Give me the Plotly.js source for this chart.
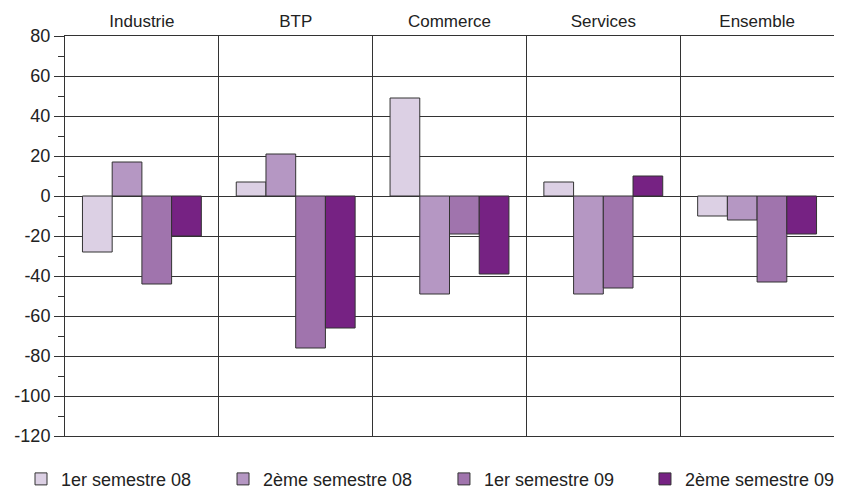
<!DOCTYPE html>
<html>
<head>
<meta charset="utf-8">
<script src="https://cdn.plot.ly/plotly-3.0.1.min.js"></script>
<style>html,body{margin:0;padding:0;background:#fff;}#chart{width:842px;height:492px;}</style>
</head>
<body>
<div id="chart"></div>
<script>
const categories = ["Industrie", "BTP", "Commerce", "Services", "Ensemble"];
const seriesNames = ["1er semestre 08", "2ème semestre 08", "1er semestre 09", "2ème semestre 09"];
const s1_08 = [-28, 7, 49, 7, -10];
const s2_08 = [17, 21, -49, -49, -12];
const s1_09 = [-44, -76, -19, -46, -43];
const s2_09 = [-20, -66, -39, 10, -19];
const colors = ["#dcd0e4", "#b597c3", "#a074ad", "#762283"];
const yTicks = [80, 60, 40, 20, 0, -20, -40, -60, -80, -100, -120];

const series = [s1_08, s2_08, s1_09, s2_09];
const legendIds = ["legend", "legend2", "legend3", "legend4"];
const legendX = [-0.0572, 0.2055, 0.4928, 0.7542];

const traces = series.map((vals, i) => ({
  type: "bar",
  name: seriesNames[i],
  x: categories,
  y: vals,
  legend: legendIds[i],
  marker: {color: colors[i], line: {color: "#333333", width: 1}},
  hoverinfo: "skip"
}));

const layout = {
  width: 842, height: 492,
  margin: {l: 65, r: 8, t: 36, b: 56, autoexpand: false},
  paper_bgcolor: "#ffffff", plot_bgcolor: "#ffffff",
  font: {family: "Liberation Sans, Arial, sans-serif", size: 18, color: "#222222"},
  barmode: "group",
  bargap: 0.227,
  bargroupgap: 0,
  showlegend: true,
  xaxis: {
    type: "category",
    side: "top",
    tickson: "boundaries",
    showgrid: true,
    gridcolor: "#333333",
    gridwidth: 1,
    ticks: "",
    ticklen: 0,
    showline: true,
    linecolor: "#333333",
    mirror: true,
    tickfont: {size: 17, color: "#222222"},
    ticklabelstandoff: 1,
    fixedrange: true
  },
  yaxis: {
    range: [-120, 80],
    tickvals: yTicks,
    ticktext: yTicks.map(String),
    ticks: "outside",
    ticklen: 10,
    tickcolor: "#333333",
    showline: true,
    linecolor: "#333333",
    showgrid: true,
    gridcolor: "#333333",
    gridwidth: 1,
    zeroline: true,
    zerolinecolor: "#333333",
    zerolinewidth: 1,
    minor: {dtick: 10, ticks: "outside", ticklen: 6, tickcolor: "#333333", showgrid: false},
    tickfont: {size: 18, color: "#222222"},
    fixedrange: true
  }
};

legendIds.forEach((id, i) => {
  layout[id] = {
    orientation: "h",
    x: legendX[i], xanchor: "left",
    y: -0.108, yanchor: "middle",
    font: {size: 18, color: "#222222"},
    bgcolor: "rgba(0,0,0,0)",
    borderwidth: 0
  };
});

Plotly.newPlot("chart", traces, layout, {staticPlot: true, displayModeBar: false});
</script>
</body>
</html>
